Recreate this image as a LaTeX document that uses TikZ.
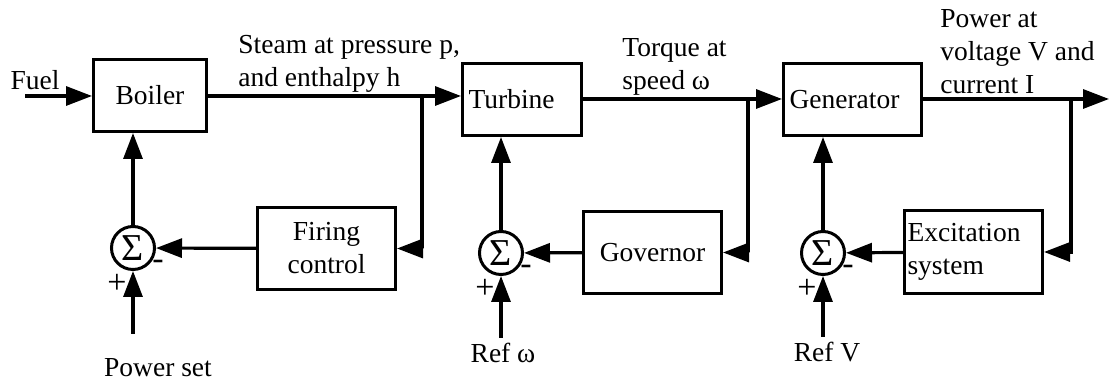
\documentclass[tikz,border=0pt]{standalone}
\usepackage{fontspec}
\setmainfont{Liberation Serif}
\usepackage{tikz}
\usetikzlibrary{arrows.meta,positioning}

\begin{document}
\begin{tikzpicture}[
  x=0.5pt, y=-0.5pt,
  font=\fontsize{13.75}{16.5}\selectfont,
  blk/.style={draw, line width=1.5pt, rectangle, minimum height=36pt, align=center},
  blkl/.style={blk, align=left, inner xsep=3pt},
  sumnode/.style={draw, line width=1.5pt, circle, minimum size=21.5pt, inner sep=0pt, font=\fontsize{19}{19}\selectfont},
  arr/.style={-{Triangle[length=13pt, width=9.5pt]}, line width=1.6pt},
  lbl/.style={align=left, anchor=west, inner sep=0pt},
  sgn/.style={inner sep=0pt, font=\fontsize{17}{17}\selectfont}
]
\useasboundingbox (0,0) rectangle (1109,383);

% forward path
\node[blk, minimum width=56.5pt] (boiler) at (150,95.5) {Boiler};
\node[blkl, text width=53.5pt] (turbine) at (522,99.5) {Turbine};
\node[blkl, text width=63pt] (generator) at (852.5,99.5) {Generator};

% feedback blocks
\node[blk, minimum width=69pt, minimum height=41pt] (firing) at (326.5,248.5) {Firing\\control};
\node[blk, minimum width=69pt, minimum height=41pt] (governor) at (652.5,252.5) {Governor};
\node[blkl, inner xsep=1.5pt, text width=66pt, minimum height=41.5pt] (excit) at (973.5,252) {Excitation\\system};

% summing junctions
\node[sumnode] (sum1) at (133,248) {Σ};
\node[sumnode] (sum2) at (501,253) {Σ};
\node[sumnode] (sum3) at (823,253) {Σ};

\node[sgn] (sum1p) at ([shift={(-16,36)}]sum1) {+};
\node[sgn] (sum1m) at ([shift={(25,17)}]sum1) {-};
\node[sgn] (sum2p) at ([shift={(-16,36)}]sum2) {+};
\node[sgn] (sum2m) at ([shift={(25,17)}]sum2) {-};
\node[sgn] (sum3p) at ([shift={(-16,36)}]sum3) {+};
\node[sgn] (sum3m) at ([shift={(25,17)}]sum3) {-};

% inputs and texts
\node (fuel) at (35,80) {Fuel};
\coordinate (fuelin) at (25,96);
\node (pset) at (158,368) {Power set};
\coordinate (psetin) at (133,334);
\node (refw) at (503,353) {Ref ω};
\coordinate (refwin) at (501,338);
\node (refv) at (827,352) {Ref V};
\coordinate (refvin) at (823,337);

\node[lbl] (steam) at (238,63.5) {Steam at pressure p,\\and enthalpy h};
\node[lbl] (torque) at (622,66.5) {Torque at\\speed ω};
\node[lbl] (power) at (940,51.5) {Power at\\voltage V and\\current I};

% branch points
\coordinate (b1) at (422,96);
\coordinate (b2) at (748,99);
\coordinate (b3) at (1071,99);
\coordinate (out) at (1109,99);

\draw[arr] (fuelin) -- (fuelin -| boiler.west);
\draw[arr] (boiler.east |- b1) -- (turbine.west |- b1);
\draw[arr] (turbine.east |- b2) -- (generator.west |- b2);
\draw[arr] (generator.east |- b3) -- (out);

\draw[arr] (b1) |- (firing.east);
\draw[arr] (b2) |- (governor.east);
\draw[arr] (b3) |- (excit.east);

\draw[arr] (firing) -- (sum1);
\draw[arr] (governor) -- (sum2);
\draw[arr] (excit) -- (sum3);

\draw[arr] (sum1) -- (sum1 |- boiler.south);
\draw[arr] (sum2) -- (sum2 |- turbine.south);
\draw[arr] (sum3) -- (sum3 |- generator.south);

\draw[arr] (psetin) -- (sum1);
\draw[arr] (refwin) -- (sum2);
\draw[arr] (refvin) -- (sum3);

\end{tikzpicture}
\end{document}
